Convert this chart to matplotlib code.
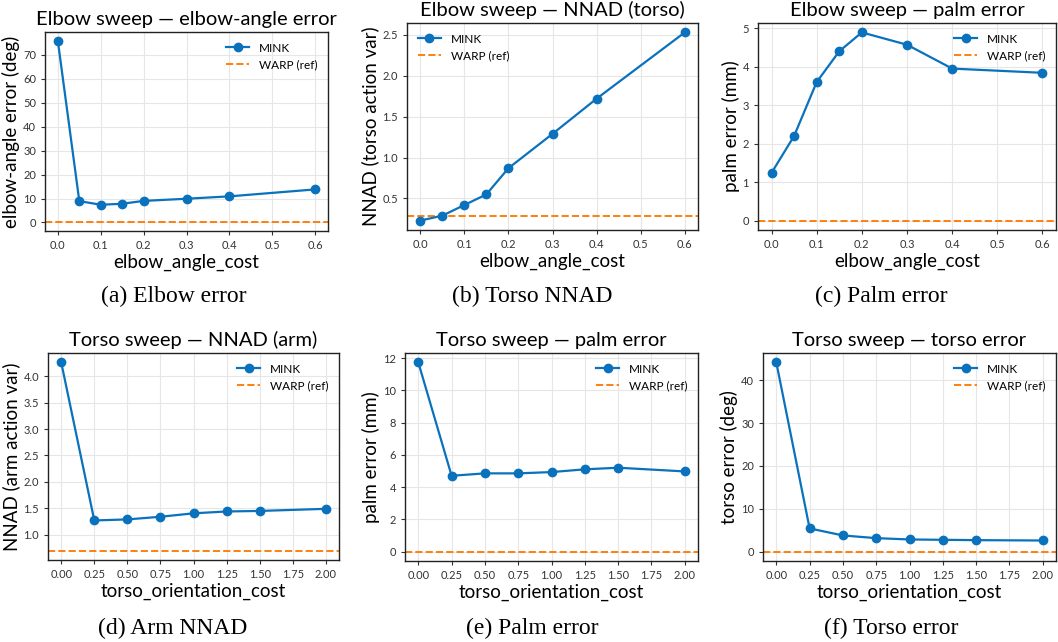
import matplotlib
matplotlib.use("Agg")
import matplotlib.pyplot as plt
from matplotlib.ticker import MultipleLocator, FormatStrFormatter

plt.rcParams['font.family'] = ['Lato', 'DejaVu Sans']

elbow_cost = [0.0, 0.05, 0.1, 0.15, 0.2, 0.3, 0.4, 0.6]
torso_cost = [0.0, 0.25, 0.5, 0.75, 1.0, 1.25, 1.5, 2.0]

elbow_angle_err = [75.8, 8.9, 7.4, 7.8, 9.0, 9.9, 10.9, 13.8]
elbow_torso_nnad = [0.23, 0.29, 0.42, 0.55, 0.87, 1.29, 1.72, 2.53]
elbow_palm_err = [1.24, 2.20, 3.60, 4.40, 4.89, 4.57, 3.95, 3.84]
torso_arm_nnad = [4.26, 1.27, 1.29, 1.34, 1.405, 1.44, 1.45, 1.49]
torso_palm_err = [11.73, 4.70, 4.85, 4.85, 4.93, 5.10, 5.20, 4.97]
torso_torso_err = [44.15, 5.4, 3.76, 3.13, 2.82, 2.74, 2.66, 2.58]

warp_ref = [0.2, 0.292, 0.0, 0.70, 0.0, 0.0]

titles = ["Elbow sweep — elbow-angle error", "Elbow sweep — NNAD (torso)",
          "Elbow sweep — palm error", "Torso sweep — NNAD (arm)",
          "Torso sweep — palm error", "Torso sweep — torso error"]
ylabels = ["elbow-angle error (deg)", "NNAD (torso action var)", "palm error (mm)",
           "NNAD (arm action var)", "palm error (mm)", "torso error (deg)"]
xlabels = ["elbow_angle_cost"] * 3 + ["torso_orientation_cost"] * 3
captions = ["(a) Elbow error", "(b) Torso NNAD", "(c) Palm error",
            "(d) Arm NNAD", "(e) Palm error", "(f) Torso error"]

xs = [elbow_cost] * 3 + [torso_cost] * 3
ys = [elbow_angle_err, elbow_torso_nnad, elbow_palm_err,
      torso_arm_nnad, torso_palm_err, torso_torso_err]
legend_locs = ["upper right", "upper left", "upper right",
               "upper right", "upper right", "upper right"]

x_steps = [0.1, 0.1, 0.1, 0.25, 0.25, 0.25]
x_fmts = ['%.1f', '%.1f', '%.1f', '%.2f', '%.2f', '%.2f']
y_steps = [10, 0.5, 1, 0.5, 2, 10]
y_fmts = ['%d', '%.1f', '%d', '%.1f', '%d', '%d']

W, H = 1058, 642
# left, right, top, bottom in pixels
boxes = [(45, 328, 32, 231), (407, 698, 23, 230), (758, 1056, 23, 230),
         (48, 339, 353, 560), (405, 698, 353, 561), (763, 1056, 353, 561)]
cap_x = [174, 532, 881, 173, 532, 891]
cap_y = [296, 296, 296, 628, 628, 628]

fig = plt.figure(figsize=(W / 100, H / 100), dpi=100)
BLUE = '#0a72bd'
ORANGE = '#ff7f0e'

for i in range(6):
    l, r, t, b = boxes[i]
    ax = fig.add_axes([l / W, 1 - b / H, (r - l) / W, (b - t) / H])
    ax.plot(xs[i], ys[i], '-o', color=BLUE, lw=1.6, ms=6, label='MINK', zorder=3)
    ax.axhline(warp_ref[i], color=ORANGE, ls='--', lw=1.4, label='WARP (ref)', zorder=2)
    ax.xaxis.set_major_locator(MultipleLocator(x_steps[i]))
    ax.xaxis.set_major_formatter(FormatStrFormatter(x_fmts[i]))
    ax.yaxis.set_major_locator(MultipleLocator(y_steps[i]))
    ax.yaxis.set_major_formatter(FormatStrFormatter(y_fmts[i]))
    ax.grid(True, color='#e6e6e6', lw=0.8)
    ax.set_axisbelow(True)
    for s in ax.spines.values():
        s.set_color('#222222')
        s.set_linewidth(1.0)
    ax.tick_params(labelsize=8, length=3, width=0.8, color='#333333', labelcolor='#333333')
    ax.set_title(titles[i], fontsize=14.5, pad=5)
    ax.set_xlabel(xlabels[i], fontsize=13.5, labelpad=2)
    ax.set_ylabel(ylabels[i], fontsize=13.5, labelpad=2)
    ax.legend(loc=legend_locs[i], frameon=False, fontsize=8.5)
    fig.text(cap_x[i] / W, 1 - cap_y[i] / H, captions[i], ha='center', va='center',
             fontsize=17, family=['Liberation Serif', 'DejaVu Serif'])

fig.savefig('out.png', dpi=100)
